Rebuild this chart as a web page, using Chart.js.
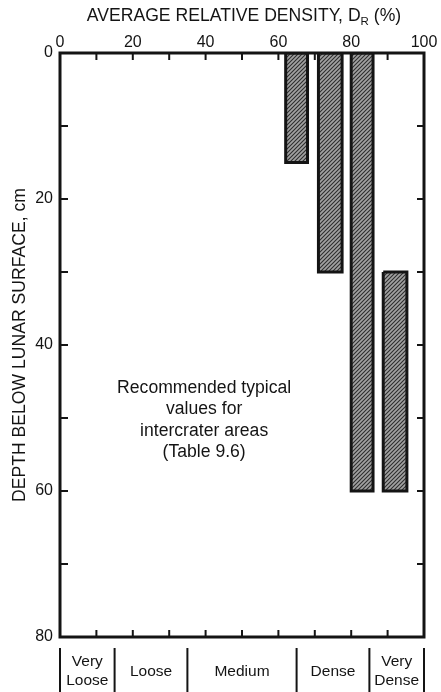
<!DOCTYPE html>
<html>
<head>
<meta charset="utf-8">
<script src="https://cdn.jsdelivr.net/npm/chart.js@4.4.0/dist/chart.umd.min.js"></script>
<style>
  html, body { margin: 0; padding: 0; background: #fff; }
  #wrap { width: 441px; height: 692px; }
</style>
</head>
<body>
<div id="wrap"><canvas id="chart"></canvas></div>
<script>
// bar extents: relative density (%) across, depth (cm) down
const densityFrom = [62, 71, 80, 88.8];
const densityTo   = [68, 77.5, 86, 95.3];
const depthFrom   = [0, 0, 0, 30];
const depthTo     = [15, 30, 60, 60];

const xTicks = [0, 20, 40, 60, 80, 100];
const yTicks = [0, 20, 40, 60, 80];

// density classes under the chart
const classBounds = [0, 15, 35, 65, 85, 100];
const classNames = [['Very', 'Loose'], ['Loose'], ['Medium'], ['Dense'], ['Very', 'Dense']];

const noteLines = ['Recommended typical', 'values for', 'intercrater areas', '(Table 9.6)'];

const FONT = '"Liberation Sans", Arial, Helvetica, sans-serif';
const INK = '#141414';

// grey diagonal hatching like the printed bars
function makeHatch() {
    const c = document.createElement('canvas');
    c.width = 4; c.height = 4;
    const g = c.getContext('2d');
    g.fillStyle = '#a2a2a2';
    g.fillRect(0, 0, 4, 4);
    g.strokeStyle = '#2e2e2e';
    g.lineWidth = 1.1;
    g.beginPath();
    g.moveTo(0, 4); g.lineTo(4, 0);
    g.moveTo(-1, 1); g.lineTo(1, -1);
    g.moveTo(3, 5); g.lineTo(5, 3);
    g.stroke();
    return g.createPattern(c, 'repeat');
}
const hatch = makeHatch();

// each bar is a closed outline through the scales
const datasets = densityFrom.map((x0, i) => ({
    data: [
        { x: x0, y: depthFrom[i] },
        { x: densityTo[i], y: depthFrom[i] },
        { x: densityTo[i], y: depthTo[i] },
        { x: x0, y: depthTo[i] },
        { x: x0, y: depthFrom[i] }
    ],
    fill: 'shape',
    backgroundColor: hatch,
    borderColor: INK,
    borderWidth: 3,
    borderJoinStyle: 'miter',
    tension: 0,
    pointRadius: 0,
    pointHoverRadius: 0
}));

const framePlugin = {
    id: 'frame',
    afterDatasetsDraw(chart) {
        const { ctx, chartArea: a, scales: { x, y } } = chart;
        ctx.save();
        ctx.strokeStyle = INK;
        ctx.lineWidth = 3;
        ctx.strokeRect(a.left, a.top, a.right - a.left, a.bottom - a.top);

        // inward ticks every 10 units
        ctx.lineWidth = 2;
        ctx.beginPath();
        for (let v = 10; v < 100; v += 10) {
            const px = x.getPixelForValue(v);
            ctx.moveTo(px, a.top); ctx.lineTo(px, a.top + 7);
            ctx.moveTo(px, a.bottom); ctx.lineTo(px, a.bottom - 7);
        }
        for (let v = 10; v < 80; v += 10) {
            const py = y.getPixelForValue(v);
            ctx.moveTo(a.left, py); ctx.lineTo(a.left + 8, py);
            ctx.moveTo(a.right, py); ctx.lineTo(a.right - 7, py);
        }
        ctx.stroke();

        // top title with subscript R
        ctx.fillStyle = INK;
        ctx.textBaseline = 'alphabetic';
        const main = 'AVERAGE RELATIVE DENSITY, D', sub = 'R', rest = ' (%)';
        ctx.font = '17.6px ' + FONT;
        const wMain = ctx.measureText(main).width, wRest = ctx.measureText(rest).width;
        ctx.font = '11.5px ' + FONT;
        const wSub = ctx.measureText(sub).width;
        let tx = 244 - (wMain + wSub + wRest) / 2;
        const ty = 21;
        ctx.textAlign = 'left';
        ctx.font = '17.6px ' + FONT;
        ctx.fillText(main, tx, ty); tx += wMain;
        ctx.font = '11.5px ' + FONT;
        ctx.fillText(sub, tx, ty + 4); tx += wSub;
        ctx.font = '17.6px ' + FONT;
        ctx.fillText(rest, tx, ty);

        // note inside the plot
        ctx.textAlign = 'center';
        ctx.textBaseline = 'middle';
        ctx.font = '17.6px ' + FONT;
        const nx = x.getPixelForValue(39.6);
        let ny = y.getPixelForValue(45.9);
        noteLines.forEach(line => { ctx.fillText(line, nx, ny); ny += 21.3; });

        // density class strip
        ctx.lineWidth = 2;
        ctx.beginPath();
        classBounds.forEach(v => {
            const px = x.getPixelForValue(v);
            ctx.moveTo(px, a.bottom + 11); ctx.lineTo(px, chart.height);
        });
        ctx.stroke();
        ctx.font = '15.5px ' + FONT;
        classNames.forEach((lines, i) => {
            const cx = (x.getPixelForValue(classBounds[i]) + x.getPixelForValue(classBounds[i + 1])) / 2;
            if (lines.length === 1) {
                ctx.fillText(lines[0], cx, a.bottom + 35);
            } else {
                ctx.fillText(lines[0], cx, a.bottom + 25);
                ctx.fillText(lines[1], cx, a.bottom + 44);
            }
        });
        ctx.restore();
    }
};

new Chart(document.getElementById('chart'), {
    type: 'line',
    data: { datasets },
    options: {
        responsive: true,
        maintainAspectRatio: false,
        animation: false,
        events: [],
        layout: { padding: { top: 0, left: 0, right: 17, bottom: 55 } },
        plugins: { legend: { display: false }, tooltip: { enabled: false } },
        scales: {
            x: {
                type: 'linear', position: 'top', min: 0, max: 100,
                afterBuildTicks: s => { s.ticks = xTicks.map(v => ({ value: v })); },
                afterFit: s => { s.height = 53; },
                grid: { display: false, drawTicks: false },
                border: { display: false },
                ticks: { color: INK, font: { family: FONT, size: 16 }, padding: 1, maxRotation: 0, autoSkip: false }
            },
            y: {
                type: 'linear', reverse: true, min: 0, max: 80,
                afterBuildTicks: s => { s.ticks = yTicks.map(v => ({ value: v })); },
                afterFit: s => { s.width = 60; },
                grid: { display: false, drawTicks: false },
                border: { display: false },
                ticks: { color: INK, font: { family: FONT, size: 16 }, padding: 7, autoSkip: false },
                title: {
                    display: true, text: 'DEPTH BELOW LUNAR SURFACE, cm', color: INK,
                    font: { family: FONT, size: 17.6 }, padding: { top: 10, bottom: 0 }
                }
            }
        }
    },
    plugins: [framePlugin]
});
</script>
</body>
</html>
